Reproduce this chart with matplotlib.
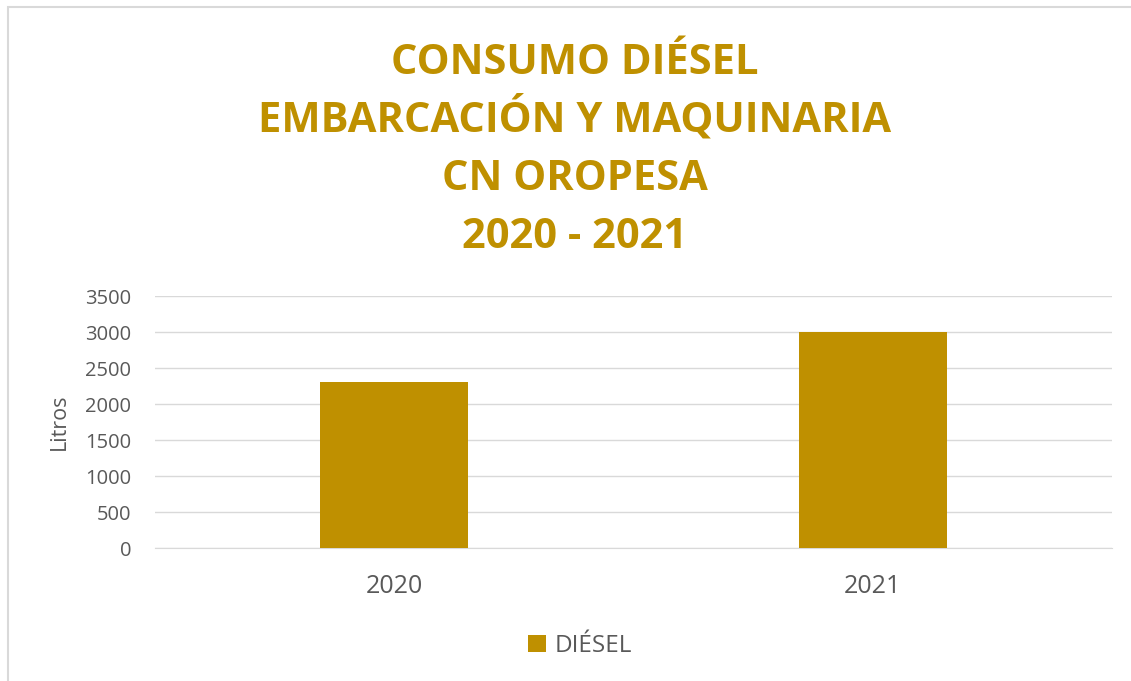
import matplotlib.pyplot as plt
from matplotlib.patches import Rectangle

# datos
years = ['2020', '2021']
diesel = [2300, 3000]

title_lines = ["CONSUMO DIÉSEL", "EMBARCACIÓN Y MAQUINARIA", "CN OROPESA", "2020 - 2021"]
gold = '#BF9000'
grey = '#595959'

plt.rcParams['font.family'] = ['Open Sans', 'DejaVu Sans']

fig = plt.figure(figsize=(11.31, 6.81), dpi=100)
ax = fig.add_axes([155 / 1131, 1 - 548 / 681, (1112 - 155) / 1131, (548 - 296) / 681])

x = range(len(years))
ax.bar(x, diesel, width=0.31, color=gold, label='DIÉSEL', zorder=3)

ax.set_xlim(-0.5, 1.5)
ax.set_ylim(0, 3500)
ax.set_yticks(range(0, 3501, 500))
ax.set_xticks(list(x))
ax.set_xticklabels(years)
ax.grid(axis='y', color='#D9D9D9', linewidth=1, zorder=0)
for s in ax.spines.values():
    s.set_visible(False)
ax.spines['bottom'].set_visible(True)
ax.spines['bottom'].set_color('#D9D9D9')
ax.tick_params(axis='y', length=0, labelsize=14.5, labelcolor=grey, pad=17)
ax.tick_params(axis='x', length=0, labelsize=18, labelcolor=grey, pad=19)
ax.set_ylabel('Litros', fontsize=15.5, color=grey)
ax.yaxis.set_label_coords(70 / 1131, 1 - 422 / 681, transform=fig.transFigure)

# título: una línea cada ~58 px
for i, line in enumerate(title_lines):
    fig.text(575 / 1131, 1 - (74 + i * 58) / 681, line, ha='center', va='baseline',
             fontsize=30, fontweight='bold', color=gold)

ax.legend(loc='center', bbox_to_anchor=(580 / 1131, 1 - 646 / 681), bbox_transform=fig.transFigure,
          frameon=False, fontsize=17.5, labelcolor=grey, handlelength=0.72, handleheight=0.72,
          handletextpad=0.35)

# borde del área del gráfico (se sale por la derecha y por abajo)
fig.patches.append(Rectangle((7.5 / 1131, -0.05), 1.1, 1 - 7.5 / 681 + 0.05,
                             transform=fig.transFigure, fill=False, edgecolor='#D9D9D9',
                             linewidth=1.5))

plt.savefig('out.png', dpi=100)
